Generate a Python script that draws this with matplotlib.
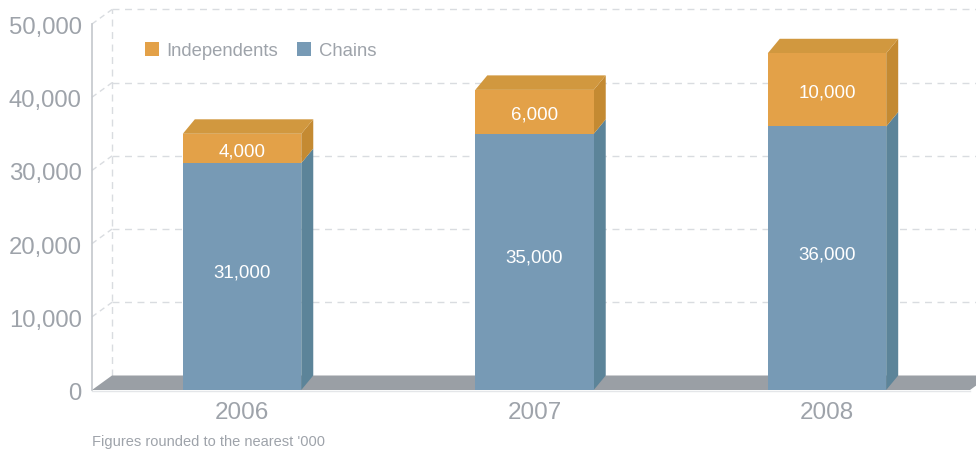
import matplotlib
matplotlib.use("Agg")
import matplotlib.pyplot as plt
from matplotlib.patches import Polygon, Rectangle
from matplotlib.transforms import IdentityTransform

years = ["2006", "2007", "2008"]
chains = [31000, 35000, 36000]
independents = [4000, 6000, 10000]
y_ticks = [0, 10000, 20000, 30000, 40000, 50000]
series_names = ["Independents", "Chains"]
note = "Figures rounded to the nearest '000"

ORANGE = "#E3A148"
ORANGE_TOP = "#D1983F"
ORANGE_SIDE = "#C48A32"
BLUE = "#779AB5"
BLUE_SIDE = "#5C8499"
FLOOR = "#9A9FA5"
GRID = "#D9DCE0"
TEXT = "#9EA3AA"

plt.rcParams["font.family"] = ["Liberation Sans", "DejaVu Sans"]

fig = plt.figure(figsize=(9.76, 4.51), dpi=100)
W, H = 976, 451
ax = fig.add_axes([92 / W, (H - 390) / H, (970 - 92) / W, (390 - 24) / H])
ax.set_xlim(-0.513, 2.489)
ax.set_ylim(0, 50000)
ax.axis("off")

# depth offsets in pixels (display coords, y up)
WALL_DX, WALL_DY = 20, 14.5
BAR_DX, BAR_DY = 12, 14.5
bar_w = 0.405


def disp(x, y, dx=0, dy=0):
    px, py = ax.transData.transform((x, y))
    return (px + dx, py + dy)


def poly(pts, color, z):
    ax.add_patch(Polygon(pts, closed=True, facecolor=color, edgecolor="none",
                         transform=IdentityTransform(), zorder=z, clip_on=False))


def line(pts, z=1, **kw):
    xs = [p[0] for p in pts]
    ys = [p[1] for p in pts]
    ax.add_line(plt.Line2D(xs, ys, transform=IdentityTransform(), zorder=z,
                           clip_on=False, **kw))


x0, x1 = ax.get_xlim()
right_px = W + 30

# back wall grid
for t in y_ticks:
    if t > 0:
        bx, by = disp(x0, t, WALL_DX, WALL_DY)
        line([(bx, by), (right_px, by)], color=GRID, lw=1, ls=(0, (5, 4)))
        fx, fy = disp(x0, t)
        line([(fx, fy), (bx, by)], color=GRID, lw=1, ls=(0, (4, 3)))
wx, wy0 = disp(x0, 0, WALL_DX, WALL_DY)
_, wy1 = disp(x0, y_ticks[-1], WALL_DX, WALL_DY)
line([(wx, wy0), (wx, wy1)], color=GRID, lw=1, ls=(0, (5, 4)))

# floor
fl = disp(x0, 0)
fr = disp(x1, 0)
poly([fl, fr, (fr[0] + WALL_DX, fr[1] + WALL_DY), (fl[0] + WALL_DX, fl[1] + WALL_DY)], FLOOR, 2)
line([(fl[0], fl[1] - 0.5), (fr[0], fr[1] - 0.5)], z=2.5, color="#E4E6E9", lw=1)

# front axis
line([disp(x0, 0), disp(x0, y_ticks[-1])], z=3, color="#C3C7CC", lw=1.2)

# bars
for i, (c, ind) in enumerate(zip(chains, independents)):
    xl, xr = i - bar_w / 2, i + bar_w / 2
    z = 4 + i
    for lo, hi, front, side in [(0, c, BLUE, BLUE_SIDE), (c, c + ind, ORANGE, ORANGE_SIDE)]:
        ax.add_patch(Rectangle((xl, lo), bar_w, hi - lo, facecolor=front,
                               edgecolor="none", zorder=z + 0.2, clip_on=False))
        a, b = disp(xr, lo), disp(xr, hi)
        poly([a, b, (b[0] + BAR_DX, b[1] + BAR_DY), (a[0] + BAR_DX, a[1] + BAR_DY)], side, z + 0.1)
    tl, tr = disp(xl, c + ind), disp(xr, c + ind)
    poly([tl, tr, (tr[0] + BAR_DX, tr[1] + BAR_DY), (tl[0] + BAR_DX, tl[1] + BAR_DY)], ORANGE_TOP, z + 0.1)

    ax.text(i, c / 2 + 500, f"{c:,}", ha="center", va="center", color="white",
            fontsize=13.5, zorder=z + 0.5)
    ax.text(i, c + ind / 2 - 450, f"{ind:,}", ha="center", va="center", color="white",
            fontsize=13.5, zorder=z + 0.5)
    ax.text(i, -3200, years[i], ha="center", va="center", color=TEXT,
            fontsize=17.5, clip_on=False)

# y tick labels
for t in y_ticks:
    ax.text(-0.548, t - 550, f"{t:,}", ha="right", va="center", color=TEXT,
            fontsize=17.2, clip_on=False)

# legend
handles = [Rectangle((0, 0), 1, 1, facecolor=ORANGE, edgecolor="none"),
           Rectangle((0, 0), 1, 1, facecolor=BLUE, edgecolor="none")]
leg = fig.legend(handles, series_names, loc="center left",
                 bbox_to_anchor=(130 / W, 1 - 51 / H), ncol=2, frameon=False,
                 fontsize=13.3, handlelength=0.78, handleheight=0.78,
                 handletextpad=0.4, columnspacing=1.0, borderpad=0.3)
for txt in leg.get_texts():
    txt.set_color(TEXT)

fig.text(92 / W, 1 - 442 / H, note, ha="left", va="center", color=TEXT, fontsize=10.5)

fig.savefig("out.png", dpi=100)
